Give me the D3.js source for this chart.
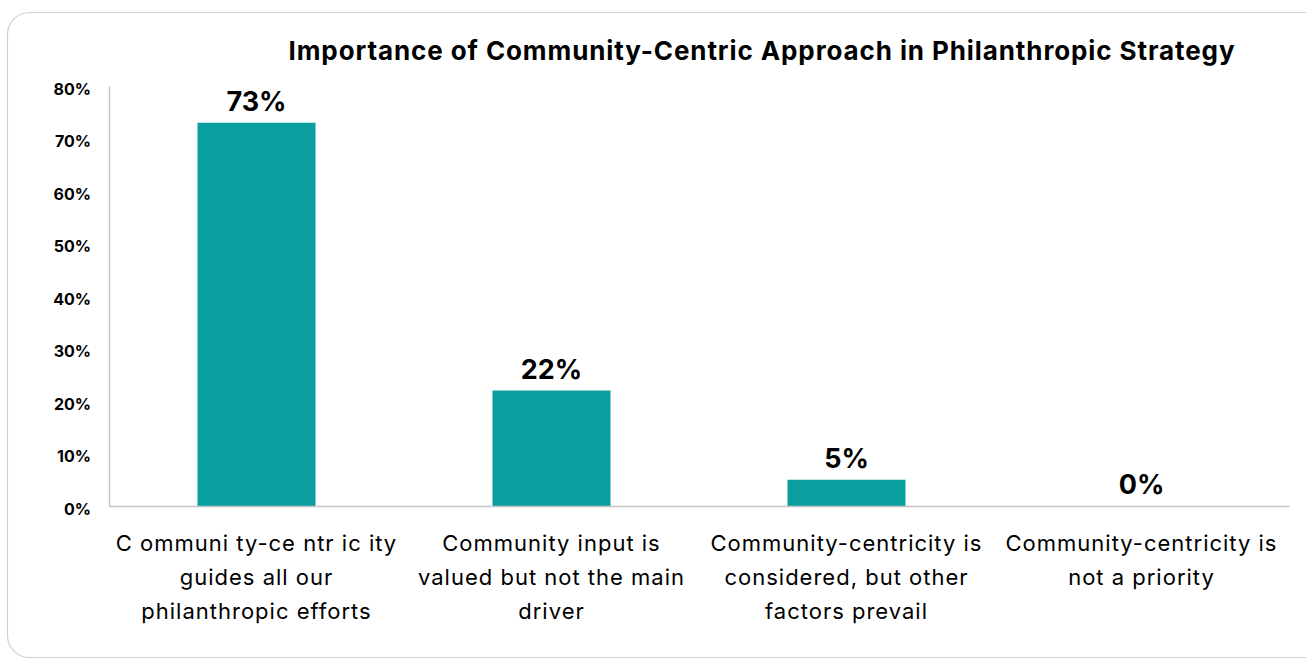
<!DOCTYPE html>
<html>
<head>
<meta charset="utf-8">
<script src="https://cdn.jsdelivr.net/npm/d3@7"></script>
<style>
  html, body { margin: 0; padding: 0; background: #ffffff; }
  svg { display: block; }
</style>
</head>
<body>
<svg id="chart" width="1306" height="660"></svg>
<script>
// Survey shares by response option
const categories = [
  "C ommuni ty-ce ntr ic ity guides all our philanthropic efforts",
  "Community input is valued but not the main driver",
  "Community-centricity is considered, but other factors prevail",
  "Community-centricity is not a priority"
];
const categoryLines = [
  ["C ommuni ty-ce ntr ic ity", "guides all our", "philanthropic efforts"],
  ["Community input is", "valued but not the main", "driver"],
  ["Community-centricity is", "considered, but other", "factors prevail"],
  ["Community-centricity is", "not a priority"]
];
const values = [73, 22, 5, 0];
const yTicks = [0, 10, 20, 30, 40, 50, 60, 70, 80];
const title = "Importance of Community-Centric Approach in Philanthropic Strategy";

const svg = d3.select("#chart");
const W = 1306, H = 660;
const font = "Inter, 'Open Sans', sans-serif";

// card background
svg.append("rect")
  .attr("x", 7.5).attr("y", 12.5)
  .attr("width", W + 20).attr("height", 645)
  .attr("rx", 22).attr("ry", 22)
  .attr("fill", "#ffffff")
  .attr("stroke", "#cfcfcf")
  .attr("stroke-width", 1.2);

const plot = { left: 109, right: 1289, top: 86, bottom: 506 };

const x = d3.scaleBand()
  .domain(categories)
  .range([plot.left, plot.right])
  .paddingInner(0.6)
  .paddingOuter(0.3);

const y = d3.scaleLinear()
  .domain([0, 80])
  .range([plot.bottom, plot.top]);

// title
svg.append("text")
  .attr("x", 762).attr("y", 60)
  .attr("text-anchor", "middle")
  .attr("font-family", font)
  .attr("font-weight", 700)
  .attr("font-size", 26)
  .attr("letter-spacing", 0.9)
  .attr("fill", "#000")
  .text(title);

// y axis
const yAxis = svg.append("g")
  .attr("transform", `translate(${plot.left},0)`)
  .call(d3.axisLeft(y).tickValues(yTicks).tickSize(0).tickPadding(18).tickFormat(d => d + "%"));
yAxis.select(".domain").attr("stroke", "#c4c4c4").attr("stroke-width", 1.5);
yAxis.selectAll("text")
  .attr("font-family", font)
  .attr("font-weight", 700)
  .attr("font-size", 16)
  .attr("fill", "#000")
  .attr("dy", "0.5em");

// bars
svg.append("g").selectAll("rect")
  .data(values)
  .join("rect")
  .attr("x", (d, i) => x(categories[i]))
  .attr("y", d => y(d))
  .attr("width", x.bandwidth())
  .attr("height", d => y(0) - y(d))
  .attr("fill", "#0a9e9e");

// x axis baseline and category labels
const xAxis = svg.append("g")
  .attr("transform", `translate(0,${plot.bottom})`)
  .call(d3.axisBottom(x).tickSize(0).tickSizeOuter(0).tickFormat(""));
xAxis.select(".domain").attr("stroke", "#c4c4c4").attr("stroke-width", 1.5);

xAxis.selectAll(".tick").each(function(d, i) {
  const t = d3.select(this).select("text")
    .text(null)
    .attr("y", 0)
    .attr("dy", null)
    .attr("font-family", font)
    .attr("font-size", 22)
    .attr("letter-spacing", 1)
    .attr("fill", "#000")
    .attr("text-anchor", "middle");
  categoryLines[i].forEach((line, k) => {
    t.append("tspan")
      .attr("x", 0)
      .attr("y", 45 + k * 34)
      .text(line);
  });
});

// value labels
svg.append("g").selectAll("text")
  .data(values)
  .join("text")
  .attr("x", (d, i) => x(categories[i]) + x.bandwidth() / 2)
  .attr("y", d => y(d) - 12)
  .attr("text-anchor", "middle")
  .attr("font-family", font)
  .attr("font-weight", 700)
  .attr("font-size", 27)
  .attr("fill", "#000")
  .text(d => d + "%");
</script>
</body>
</html>
